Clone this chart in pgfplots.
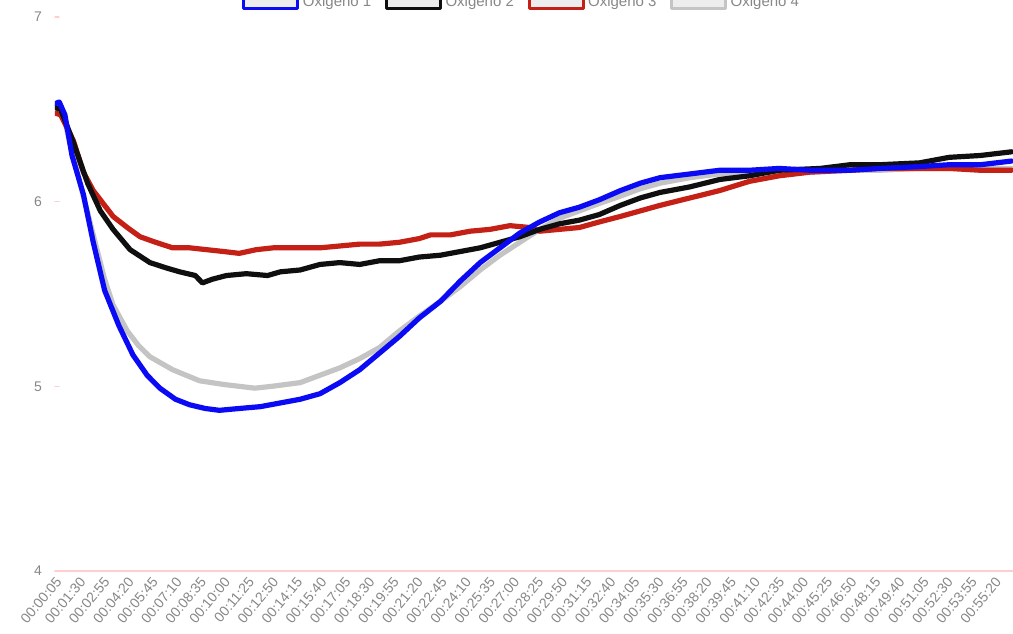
\documentclass[border=0pt]{standalone}
\usepackage{pgfplots}
\pgfplotsset{compat=1.18}
\usepackage{fontspec}
\setmainfont{Liberation Sans}

\definecolor{oxA}{RGB}{10,10,245}
\definecolor{oxB}{RGB}{15,15,15}
\definecolor{oxC}{RGB}{196,32,22}
\definecolor{oxD}{RGB}{196,196,196}
\definecolor{baseline}{RGB}{255,205,205}
\definecolor{ticktext}{RGB}{135,135,135}

\begin{document}
\begin{tikzpicture}
\begin{axis}[
  scale only axis,
  width=479pt, height=277pt,
  xmin=5, xmax=3385,
  ymin=4, ymax=7,
  ytick={4,5,6,7},
  xtick={5,90,...,3320},
  xticklabels={00:00:05,00:01:30,00:02:55,00:04:20,00:05:45,00:07:10,00:08:35,00:10:00,
    00:11:25,00:12:50,00:14:15,00:15:40,00:17:05,00:18:30,00:19:55,00:21:20,00:22:45,
    00:24:10,00:25:35,00:27:00,00:28:25,00:29:50,00:31:15,00:32:40,00:34:05,00:35:30,
    00:36:55,00:38:20,00:39:45,00:41:10,00:42:35,00:44:00,00:45:25,00:46:50,00:48:15,
    00:49:40,00:51:05,00:52:30,00:53:55,00:55:20},
  axis lines*=left,
  x axis line style={draw=baseline, line width=0.6pt, -},
  y axis line style={draw=none},
  xtick style={draw=none},
  ytick style={draw=baseline, line width=0.6pt},
  major tick length=2pt,
  tick label style={font=\fontsize{7}{8}\selectfont, text=ticktext},
  /pgf/number format/assume math mode=true,
  yticklabel style={xshift=-3pt},
  xticklabel style={rotate=50, anchor=north east, inner sep=0.5pt, xshift=-1.5pt, yshift=-1pt},
  line join=round, line cap=round,
  every axis plot/.append style={line width=2.6pt, mark=none},
  legend columns=4,
  reverse legend,
  legend image code/.code={\draw[#1, line width=1.5pt, fill=black!7] (0pt,-2.5pt) rectangle (27pt,7pt);},
  legend style={at={(0.488,1)}, anchor=south, yshift=1.5pt, draw=none, fill=none,
    inner sep=0pt, font=\fontsize{7.5}{9}\selectfont, text=ticktext,
    nodes={inner sep=1.8pt},
    /tikz/every even column/.append style={column sep=5pt}},
]

% Oxigeno 4
\addplot[oxD] coordinates {
(5,6.52) (30,6.50) (60,6.30) (100,6.06) (140,5.82) (180,5.58) (210,5.44) (260,5.30)
(300,5.22) (340,5.16) (420,5.09) (515,5.03) (600,5.01) (655,5.00)
(710,4.99) (770,5.00) (820,5.01) (870,5.02) (940,5.06) (1010,5.10) (1080,5.15) (1150,5.21)
(1220,5.30) (1290,5.38) (1365,5.46) (1435,5.54) (1505,5.63) (1575,5.71) (1645,5.78)
(1715,5.85) (1785,5.91) (1855,5.95) (1925,5.99) (2000,6.03) (2070,6.07) (2140,6.10)
(2245,6.13) (2350,6.15) (2455,6.16) (2560,6.16) (2670,6.16) (2810,6.17) (2915,6.17)
(3055,6.18) (3160,6.18) (3270,6.18) (3380,6.18)
};
\addlegendentry{Oxigeno 4}

% Oxigeno 3
\addplot[oxC] coordinates {
(5,6.48) (25,6.47) (70,6.33) (105,6.16) (140,6.06) (210,5.92) (260,5.86) (305,5.81) (360,5.78)
(420,5.75) (480,5.75) (540,5.74) (600,5.73) (655,5.72) (715,5.74) (775,5.75) (870,5.75)
(940,5.75) (1010,5.76) (1080,5.77) (1150,5.77) (1220,5.78) (1290,5.80) (1330,5.82)
(1400,5.82) (1470,5.84) (1540,5.85) (1610,5.87) (1680,5.86) (1715,5.84) (1785,5.85)
(1855,5.86) (1925,5.89) (2000,5.92) (2070,5.95) (2140,5.98) (2245,6.02) (2350,6.06)
(2455,6.11) (2560,6.14) (2670,6.16) (2810,6.17) (2915,6.18) (3055,6.18) (3160,6.18)
(3270,6.17) (3380,6.17)
};
\addlegendentry{Oxigeno 3}

% Oxigeno 2
\addplot[oxB] coordinates {
(5,6.51) (25,6.50) (70,6.32) (120,6.10) (165,5.95) (210,5.85) (270,5.74) (340,5.67)
(400,5.64) (445,5.62) (500,5.60) (525,5.56) (560,5.58) (610,5.60) (680,5.61) (755,5.60)
(800,5.62) (870,5.63) (940,5.66) (1010,5.67) (1080,5.66) (1150,5.68) (1220,5.68)
(1290,5.70) (1365,5.71) (1435,5.73) (1505,5.75) (1575,5.78) (1645,5.81) (1715,5.85)
(1785,5.88) (1855,5.90) (1925,5.93) (2000,5.98) (2070,6.02) (2140,6.05) (2245,6.08)
(2350,6.12) (2455,6.14) (2560,6.17) (2705,6.18) (2810,6.20) (2915,6.20) (3055,6.21)
(3160,6.24) (3270,6.25) (3380,6.27)
};
\addlegendentry{Oxigeno 2}

% Oxigeno 1
\addplot[oxA] coordinates {
(5,6.53) (20,6.54) (40,6.47) (65,6.25) (105,6.04) (140,5.78) (180,5.52) (230,5.33)
(280,5.17) (330,5.06) (375,4.99) (430,4.93) (480,4.90) (535,4.88) (585,4.87) (655,4.88)
(730,4.89) (800,4.91) (870,4.93) (940,4.96) (1010,5.02) (1080,5.09) (1150,5.18)
(1220,5.27) (1290,5.37) (1365,5.46) (1435,5.57) (1505,5.67) (1575,5.75) (1645,5.83)
(1715,5.89) (1785,5.94) (1855,5.97) (1925,6.01) (2000,6.06) (2070,6.10) (2140,6.13)
(2245,6.15) (2350,6.17) (2455,6.17) (2560,6.18) (2670,6.17) (2810,6.17) (2915,6.18)
(3055,6.19) (3160,6.20) (3270,6.20) (3380,6.22)
};
\addlegendentry{Oxigeno 1}

\end{axis}
\pgfresetboundingbox
\path[use as bounding box] ([xshift=-27.5pt,yshift=-31.5pt]current axis.south west)
  rectangle ([yshift=8.5pt]current axis.north east);
\end{tikzpicture}
\end{document}
